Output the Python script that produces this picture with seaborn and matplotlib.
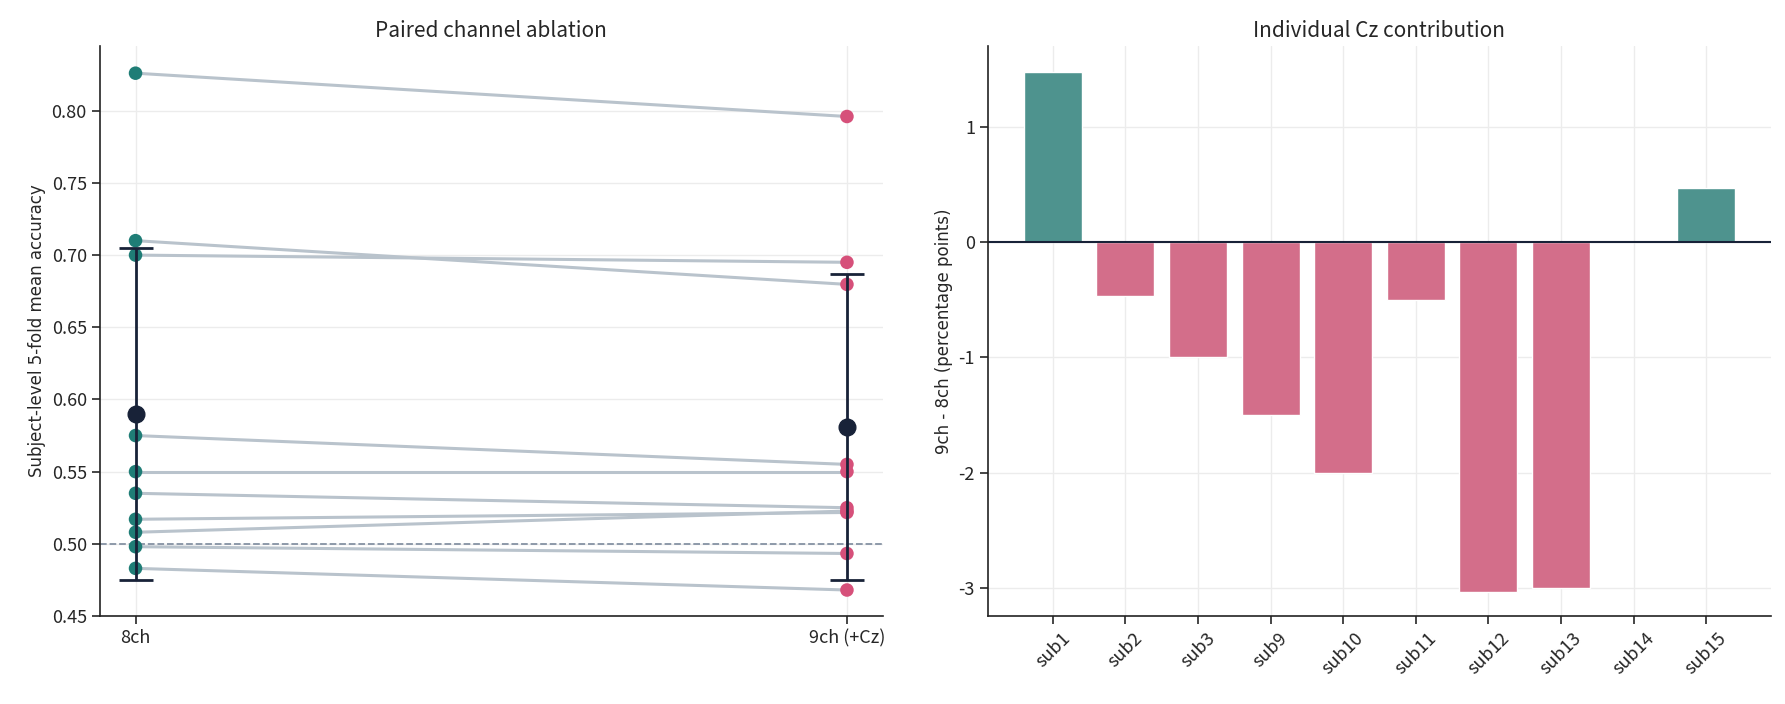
import numpy as np
import pandas as pd
import matplotlib
matplotlib.use("Agg")
import matplotlib.pyplot as plt
import seaborn as sns

subjects = ['sub1', 'sub2', 'sub3', 'sub9', 'sub10', 'sub11', 'sub12', 'sub13', 'sub14', 'sub15']
acc_8ch = [0.508, 0.498, 0.535, 0.483, 0.575, 0.700, 0.710, 0.826, 0.550, 0.517]
acc_9ch = [0.5227, 0.4933, 0.525, 0.468, 0.555, 0.695, 0.6797, 0.796, 0.550, 0.5217]
conditions = ['8ch', '9ch (+Cz)']

TEAL = '#1f7d76'
PINK = '#d6507a'
BAR_TEAL = '#4e938e'
BAR_PINK = '#d36e8a'
NAVY = '#182238'
LINE = '#b9c3cc'

sns.set_theme(style='ticks')
plt.rcParams['font.family'] = ['Noto Sans CJK SC', 'DejaVu Sans']

df = pd.DataFrame({'subject': subjects, '8ch': acc_8ch, '9ch (+Cz)': acc_9ch})
long = df.melt(id_vars='subject', var_name='condition', value_name='acc')
long['x'] = long['condition'].map({c: i for i, c in enumerate(conditions)})
df['delta'] = (df['9ch (+Cz)'] - df['8ch']) * 100
df['sign'] = np.where(df['delta'] >= 0, 'pos', 'neg')

fig, (ax1, ax2) = plt.subplots(1, 2, figsize=(17.85, 7.04), dpi=100)
fig.subplots_adjust(left=0.056, right=0.992, top=0.935, bottom=0.125, wspace=0.135)

# 左图: 配对线
for s, g in long.groupby('subject'):
    ax1.plot(g['x'], g['acc'], color=LINE, lw=2.2, zorder=2)
sns.scatterplot(data=long, x='x', y='acc', hue='condition', palette=[TEAL, PINK],
                s=95, edgecolor='none', ax=ax1, legend=False, zorder=3)
means = [np.mean(acc_8ch), np.mean(acc_9ch)]
sds = [np.std(acc_8ch, ddof=1), np.std(acc_9ch, ddof=1)]
ax1.errorbar([0, 1], means, yerr=sds, fmt='o', color=NAVY, ms=12, lw=2,
             capsize=12, capthick=2, zorder=4)
ax1.axhline(0.5, color='#8592a3', ls='--', lw=1.3, zorder=1)
ax1.set_xticks([0, 1])
ax1.set_xticklabels(conditions)
ax1.set_xlim(-0.05, 1.05)
ax1.set_ylim(0.45, 0.845)
ax1.set_yticks([0.45, 0.50, 0.55, 0.60, 0.65, 0.70, 0.75, 0.80])
ax1.set_xlabel('')
ax1.set_ylabel('Subject-level 5-fold mean accuracy', fontsize=12, family='DejaVu Sans')
ax1.set_title('Paired channel ablation', fontsize=15)
ax1.grid(True, color='#ececec', lw=1)
ax1.set_axisbelow(True)

# 右图: 个体差值
sns.barplot(data=df, x='subject', y='delta', hue='sign',
            palette={'pos': BAR_TEAL, 'neg': BAR_PINK}, dodge=False,
            width=0.8, legend=False, ax=ax2, saturation=1)
ax2.axhline(0, color=NAVY, lw=1.5)
ax2.set_xlim(-0.89, 9.89)
ax2.set_ylim(-3.24, 1.70)
ax2.set_yticks([-3, -2, -1, 0, 1])
ax2.set_yticklabels(['-3', '-2', '-1', '0', '1'])
ax2.set_xlabel('')
ax2.set_ylabel('9ch - 8ch (percentage points)', fontsize=12, family='DejaVu Sans')
ax2.set_title('Individual Cz contribution', fontsize=15)
ax2.tick_params(axis='x', rotation=45)
ax2.grid(True, color='#ececec', lw=1)
ax2.set_axisbelow(True)

for ax in (ax1, ax2):
    sns.despine(ax=ax)
    ax.tick_params(labelsize=13, length=6, width=1.2)
    for sp in ('left', 'bottom'):
        ax.spines[sp].set_linewidth(1.2)
        ax.spines[sp].set_color('#222222')

plt.savefig('out.png', dpi=100)
